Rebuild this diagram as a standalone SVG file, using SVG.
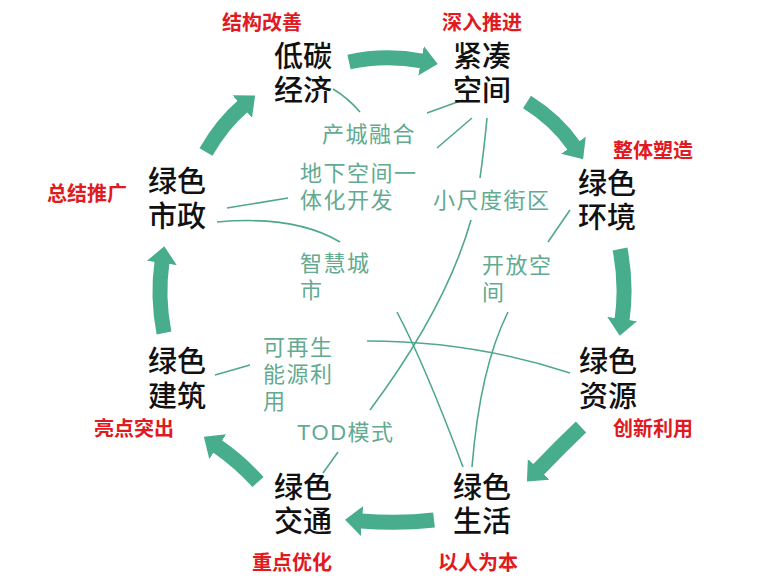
<svg xmlns="http://www.w3.org/2000/svg" width="784" height="587" viewBox="0 0 784 587">
<style>
.node{font-family:"Liberation Sans","Noto Sans CJK SC",sans-serif;font-size:29px;font-weight:500;fill:#111;text-anchor:middle}
.tag{font-family:"Liberation Sans","Noto Sans CJK SC",sans-serif;font-size:20px;font-weight:bold;fill:#e01a1f;text-anchor:middle}
.sub{font-family:"Liberation Sans","Noto Sans CJK SC",sans-serif;font-size:22px;fill:#62aa90;letter-spacing:1.5px}
.big{fill:none;stroke:#48ad8c;stroke-width:15;marker-end:url(#head)}
.thin{fill:none;stroke:#4fa88a;stroke-width:1.6}
</style>
<defs>
<marker id="head" markerUnits="userSpaceOnUse" viewBox="-1 -16 18 32" markerWidth="18" markerHeight="32" refX="0" refY="0" orient="auto">
<path d="M-1,-15 L16,0 L-1,15 z" fill="#48ad8c"/>
</marker>
</defs>
<rect width="784" height="587" fill="#fff"/>
<g id="arrows">
<path class="big" d="M349,62 Q385,54 422,61"/>
<path class="big" d="M527,102 Q556,120 574,146"/>
<path class="big" d="M620,249 Q627,285 622,320"/>
<path class="big" d="M581,427 Q560,447 538,470"/>
<path class="big" d="M434,520 Q400,524 361,521"/>
<path class="big" d="M258,482 Q240,462 217,446"/>
<path class="big" d="M164,333 Q157,297 162,262"/>
<path class="big" d="M206,152 Q222,124 243,106"/>
</g>
<g id="connectors">
<path class="thin" d="M333,89 Q348,98 360,112"/>
<path class="thin" d="M427,113 L463,100"/>
<path class="thin" d="M472,118 L437,148"/>
<path class="thin" d="M487,118 Q484,150 480,178"/>
<path class="thin" d="M471,220 Q446,308 370,410"/>
<path class="thin" d="M227,208 L288,198"/>
<path class="thin" d="M217,222 Q295,215 340,242"/>
<path class="thin" d="M397,312 Q425,365 463,467"/>
<path class="thin" d="M570,210 L548,242"/>
<path class="thin" d="M508,312 Q480,368 472,467"/>
<path class="thin" d="M367,341 Q473,341 570,373"/>
<path class="thin" d="M215,375 L250,365"/>
<path class="thin" d="M338,452 L323,473"/>
</g>
<g id="n-dtjj"><text class="node"><tspan x="303" y="67">低碳</tspan><tspan x="303" y="101">经济</tspan></text><text class="tag" x="262" y="30">结构改善</text></g>
<g id="n-jckj"><text class="node"><tspan x="482" y="67">紧凑</tspan><tspan x="482" y="101">空间</tspan></text><text class="tag" x="482" y="30">深入推进</text></g>
<g id="n-lshj"><text class="node"><tspan x="607" y="194">绿色</tspan><tspan x="607" y="228">环境</tspan></text><text class="tag" x="653" y="158">整体塑造</text></g>
<g id="n-lszy"><text class="node"><tspan x="608" y="372">绿色</tspan><tspan x="608" y="407">资源</tspan></text><text class="tag" x="653" y="436">创新利用</text></g>
<g id="n-lssh"><text class="node"><tspan x="482" y="498">绿色</tspan><tspan x="482" y="532">生活</tspan></text><text class="tag" x="478" y="570">以人为本</text></g>
<g id="n-lsjt"><text class="node"><tspan x="303" y="498">绿色</tspan><tspan x="303" y="532">交通</tspan></text><text class="tag" x="292" y="570">重点优化</text></g>
<g id="n-lsjz"><text class="node"><tspan x="177" y="372">绿色</tspan><tspan x="177" y="407">建筑</tspan></text><text class="tag" x="134" y="436">亮点突出</text></g>
<g id="n-lssz"><text class="node"><tspan x="177" y="192">绿色</tspan><tspan x="177" y="227">市政</tspan></text><text class="tag" x="87" y="201">总结推广</text></g>
<g id="t-ccrh"><text class="sub" x="322" y="142">产城融合</text></g>
<g id="t-dxkj"><text class="sub"><tspan x="300" y="181">地下空间一</tspan><tspan x="300" y="208">体化开发</tspan></text></g>
<g id="t-zhcs"><text class="sub"><tspan x="300" y="271">智慧城</tspan><tspan x="300" y="298">市</tspan></text></g>
<g id="t-xcd"><text class="sub" x="433" y="208">小尺度街区</text></g>
<g id="t-kfkj"><text class="sub"><tspan x="482" y="273">开放空</tspan><tspan x="482" y="300">间</tspan></text></g>
<g id="t-kzs"><text class="sub"><tspan x="263" y="355">可再生</tspan><tspan x="263" y="382">能源利</tspan><tspan x="263" y="409">用</tspan></text></g>
<g id="t-tod"><text class="sub" x="297" y="440">TOD模式</text></g>
</svg>
